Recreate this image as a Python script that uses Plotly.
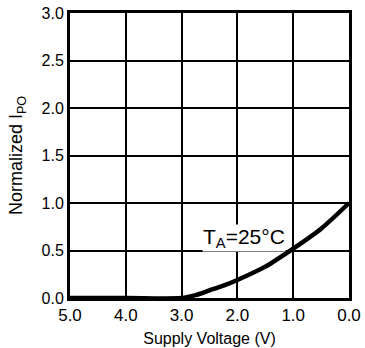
import plotly.graph_objects as go

voltage = [5.0, 4.0, 3.0, 2.75, 2.5, 2.25, 2.0, 1.5, 1.0, 0.5, 0.0]
ipo = [0.0, 0.0, 0.0, 0.03, 0.08, 0.13, 0.19, 0.33, 0.52, 0.73, 1.0]
x_ticks = [5.0, 4.0, 3.0, 2.0, 1.0, 0.0]
x_tick_labels = ["5.0", "4.0", "3.0", "2.0", "1.0", "0.0"]
y_ticks = [0.0, 0.5, 1.0, 1.5, 2.0, 2.5, 3.0]
y_tick_labels = ["0.0", "0.5", "1.0", "1.5", "2.0", "2.5", "3.0"]

FONT = "Liberation Sans, Arial, Helvetica"

fig = go.Figure()
fig.add_trace(go.Scatter(x=voltage, y=ipo, mode="lines",
                         line=dict(color="black", width=4.5, shape="spline", smoothing=0.8),
                         showlegend=False, hoverinfo="skip"))

fig.add_annotation(x=1.88, y=0.63, text="T<sub>A</sub>=25°C", showarrow=False,
                   font=dict(family=FONT, size=21, color="black"),
                   bgcolor="white", borderpad=0)

fig.update_layout(
    width=365, height=348,
    margin=dict(l=70, r=16, t=13, b=50),
    plot_bgcolor="white", paper_bgcolor="white",
    font=dict(family=FONT, size=15, color="black"),
    xaxis=dict(range=[5.0, 0.0], tickvals=x_ticks, ticktext=x_tick_labels,
               showgrid=True, gridcolor="black", gridwidth=2,
               showline=True, linecolor="black", linewidth=3, mirror=True,
               zeroline=False, ticks="", tickfont=dict(size=17), automargin=False,
               ticklabeloverflow="allow",
               title=dict(text="Supply Voltage (V)", font=dict(size=16), standoff=9)),
    yaxis=dict(range=[0.0, 3.0], tickvals=y_ticks, ticktext=y_tick_labels,
               showgrid=True, gridcolor="black", gridwidth=2,
               showline=True, linecolor="black", linewidth=3, mirror=True,
               zeroline=False, ticks="", tickfont=dict(size=16), automargin=False,
               ticklabeloverflow="allow",
               title=dict(text="Normalized I<sub>PO</sub>", font=dict(size=18), standoff=15)),
)

fig.write_html("out.html", config={"displayModeBar": False},
               post_script="document.body.style.margin='0';document.body.style.overflow='hidden';")
